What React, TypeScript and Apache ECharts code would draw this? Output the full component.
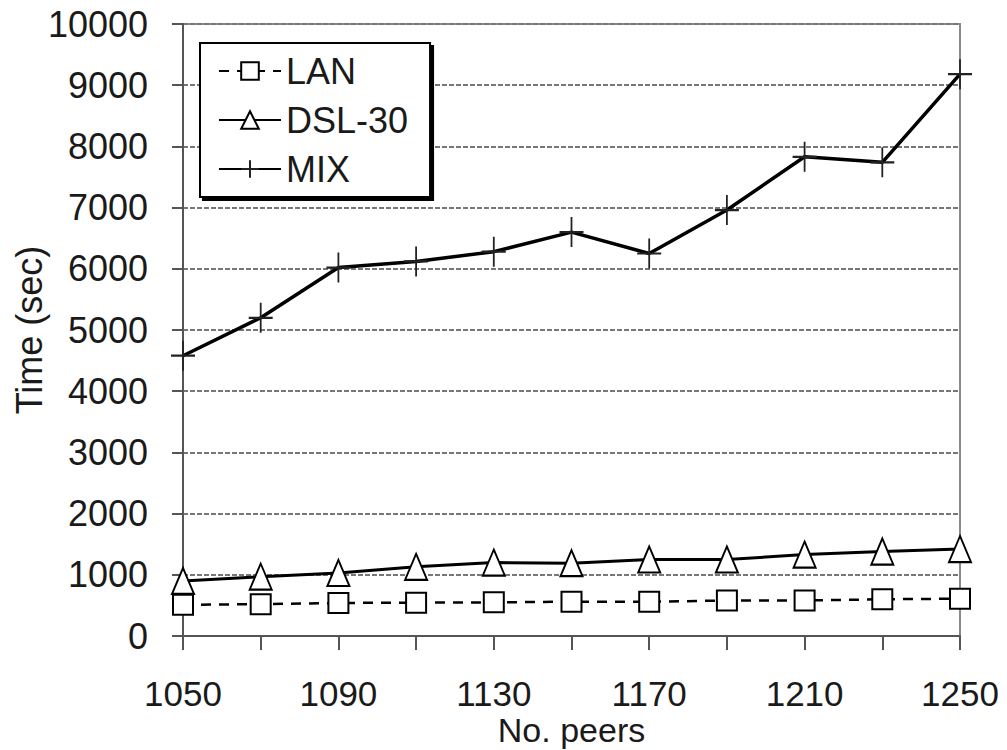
import React, { useEffect, useRef } from "react";
import * as echarts from "echarts";

const peers = ["1050", "1070", "1090", "1110", "1130", "1150", "1170", "1190", "1210", "1230", "1250"];
const lanTime = [510, 520, 540, 545, 550, 560, 560, 580, 580, 600, 610];
const dslTime = [900, 970, 1030, 1130, 1200, 1190, 1250, 1250, 1330, 1380, 1420];
const mixTime = [4580, 5200, 6020, 6120, 6280, 6600, 6250, 6960, 7830, 7740, 9180];

const FONT = "'Liberation Sans', Arial, Helvetica, sans-serif";
const TXT = "#1a1a1a";

export default function App() {
  const ref = useRef<HTMLDivElement>(null);
  useEffect(() => {
    if (!ref.current) return;
    const chart = echarts.init(ref.current, undefined, { renderer: "svg" });
    chart.setOption({
      animation: false,
      backgroundColor: "#fff",
      textStyle: { fontFamily: FONT },
      grid: {
        left: 183,
        right: 47,
        top: 24,
        bottom: 114,
        show: true,
        borderColor: "#8a8a8a",
        borderWidth: 2,
        containLabel: false,
        outerBoundsMode: "none",
      },
      legend: {
        orient: "vertical",
        left: 200,
        top: 43,
        padding: [10, 22, 10, 18],
        itemWidth: 62,
        itemHeight: 22,
        itemGap: 13,
        backgroundColor: "#fff",
        borderColor: "#000",
        borderWidth: 2,
        borderRadius: 0,
        shadowColor: "#000",
        shadowBlur: 0,
        shadowOffsetX: 3,
        shadowOffsetY: 3,
        textStyle: { fontSize: 36, color: TXT, fontFamily: FONT },
        data: ["LAN", "DSL-30", "MIX"],
      },
      xAxis: {
        type: "category",
        data: peers,
        boundaryGap: false,
        name: "No. peers",
        nameLocation: "middle",
        nameGap: 79,
        nameMoveOverlap: false,
        nameTextStyle: { fontSize: 34, lineHeight: 30, color: TXT, fontFamily: FONT },
        axisLine: { show: true, onZero: false, lineStyle: { color: "#555", width: 2 } },
        axisTick: { show: true, inside: false, interval: 0, length: 14, lineStyle: { color: "#555", width: 2 } },
        axisLabel: { fontSize: 35, lineHeight: 30, color: TXT, margin: 42, interval: 1 },
        splitLine: { show: false },
      },
      yAxis: {
        type: "value",
        min: 0,
        max: 10000,
        interval: 1000,
        name: "Time (sec)",
        nameLocation: "middle",
        nameGap: 136,
        nameMoveOverlap: false,
        nameTextStyle: { fontSize: 36, color: TXT, fontFamily: FONT },
        axisLine: { show: true, lineStyle: { color: "#555", width: 2 } },
        axisTick: { show: true, inside: false, length: 11, lineStyle: { color: "#555", width: 2 } },
        axisLabel: { fontSize: 36, color: TXT, margin: 35, formatter: (v: number) => String(v) },
        splitLine: { show: true, lineStyle: { color: "#777", type: [5, 2], width: 2 } },
      },
      series: [
        {
          name: "LAN",
          type: "line",
          data: lanTime,
          symbol: "rect",
          symbolSize: 20,
          lineStyle: { color: "#000", width: 2.5, type: [10, 8] },
          itemStyle: { color: "#fff", borderColor: "#000", borderWidth: 2 },
          z: 3,
        },
        {
          name: "DSL-30",
          type: "line",
          data: dslTime,
          symbol: "triangle",
          symbolSize: [22, 26],
          lineStyle: { color: "#000", width: 3 },
          itemStyle: { color: "#fff", borderColor: "#000", borderWidth: 2 },
          z: 4,
        },
        {
          name: "MIX",
          type: "line",
          data: mixTime,
          symbol: "path://M10,0L10,26M0,13L20,13",
          symbolSize: [24, 30],
          lineStyle: { color: "#000", width: 3.5 },
          itemStyle: { color: "transparent", borderColor: "#222", borderWidth: 2 },
          z: 5,
        },
      ],
    });
    return () => chart.dispose();
  }, []);
  return (
    <div
      ref={ref}
      style={{ position: "absolute", left: 0, top: 0, width: 1007, height: 750, overflow: "hidden" }}
    />
  );
}
